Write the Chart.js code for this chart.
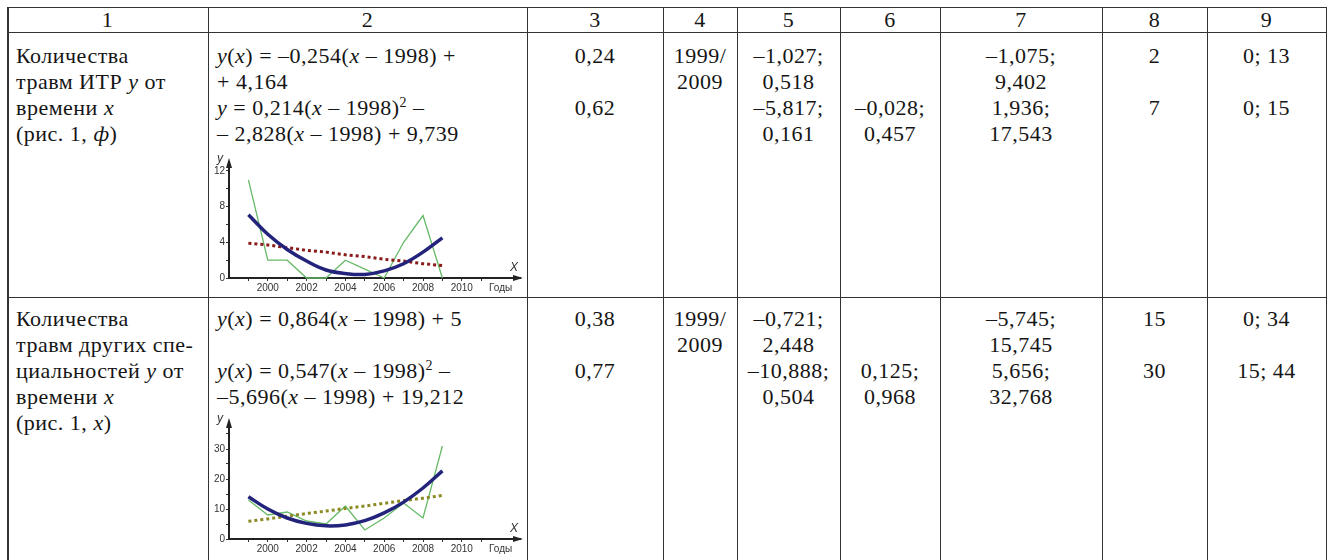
<!DOCTYPE html>
<html>
<head>
<meta charset="utf-8">
<script src="https://cdn.jsdelivr.net/npm/chart.js@4.4.0/dist/chart.umd.min.js"></script>
<style>
body { margin: 0; background: #fff; width: 1333px; height: 560px; overflow: hidden; position: relative; }
.line { position: absolute; background: #333; }
.cell { position: absolute; font-family: "Liberation Serif", serif; font-size: 22px; letter-spacing: 0.5px; line-height: 26px; color: #151515; white-space: nowrap; box-sizing: border-box; }
.cell.c { text-align: center; }
.cell.l { padding-left: 9px; }
.cell sup { font-size: 14px; line-height: 0; vertical-align: 8px; }
.chartBox { position: absolute; }
</style>
</head>
<body>
<div class="chartBox" id="box1" style="left:209px;top:150px;width:317px;height:146px"><canvas id="chart1"></canvas></div>
<div class="chartBox" id="box2" style="left:209px;top:410px;width:317px;height:147px"><canvas id="chart2"></canvas></div>
<script>
// data
var years = [1999, 2000, 2001, 2002, 2003, 2004, 2005, 2006, 2007, 2008, 2009];
var itrInjuries = [11, 2, 2, 0, 0, 2, 1, 0, 4, 7, 0];
var itrQuad = [7.1, 4.9, 3.2, 1.9, 0.9, 0.5, 0.4, 0.8, 1.6, 2.9, 4.5];
var itrLinear = [3.9, 3.7, 3.4, 3.1, 2.9, 2.6, 2.4, 2.1, 1.9, 1.6, 1.4];
var otherInjuries = [13, 8, 9, 6, 5, 11, 3, 7, 12, 7, 31];
var otherQuad = [14.1, 10.0, 7.0, 5.2, 4.4, 4.7, 6.1, 8.7, 12.3, 17.0, 22.7];
var otherLinear = [5.9, 6.7, 7.6, 8.5, 9.3, 10.2, 11.0, 11.9, 12.8, 13.6, 14.5];
var xTicks = [1999, 2000, 2001, 2002, 2003, 2004, 2005, 2006, 2007, 2008, 2009, 2010, 2011, 2012];
var xTickLabels = {2000: "2000", 2002: "2002", 2004: "2004", 2006: "2006", 2008: "2008", 2010: "2010", 2012: "Годы"};
var yTicks1 = [0, 2, 4, 6, 8, 10, 12];
var yLabels1 = [0, 4, 8, 12];
var yTicks2 = [0, 5, 10, 15, 20, 25, 30, 35];
var yLabels2 = [0, 10, 20, 30];

// table text
var headers = ["1", "2", "3", "4", "5", "6", "7", "8", "9"];
var row1 = [
    "Количества<br>травм ИТР <i>y</i> от<br>времени <i>x</i><br>(рис. 1, <i>ф</i>)",
    "<i>y</i>(<i>x</i>) = –0,254(<i>x</i> – 1998) +<br>+ 4,164<br><i>y</i> = 0,214(<i>x</i> – 1998)<sup>2</sup> –<br>– 2,828(<i>x</i> – 1998) + 9,739",
    "0,24<br><br>0,62",
    "1999/<br>2009",
    "–1,027;<br>0,518<br>–5,817;<br>0,161",
    "<br><br>–0,028;<br>0,457",
    "–1,075;<br>9,402<br>1,936;<br>17,543",
    "2<br><br>7",
    "0; 13<br><br>0; 15"
];
var row2 = [
    "Количества<br>травм других спе-<br>циальностей <i>y</i> от<br>времени <i>x</i><br>(рис. 1, <i>х</i>)",
    "<i>y</i>(<i>x</i>) = 0,864(<i>x</i> – 1998) + 5<br><br><i>y</i>(<i>x</i>) = 0,547(<i>x</i> – 1998)<sup>2</sup> –<br>–5,696(<i>x</i> – 1998) + 19,212",
    "0,38<br><br>0,77",
    "1999/<br>2009",
    "–0,721;<br>2,448<br>–10,888;<br>0,504",
    "<br><br>0,125;<br>0,968",
    "–5,745;<br>15,745<br>5,656;<br>32,768",
    "15<br><br>30",
    "0; 34<br><br>15; 44"
];

// table grid
var colX = [7, 208, 527, 663, 737, 840, 940, 1102, 1207, 1326];
var rowY = [7, 32, 297, 570];

function addLine(x, y, w, h) {
    var d = document.createElement("div");
    d.className = "line";
    d.style.left = x + "px"; d.style.top = y + "px";
    d.style.width = w + "px"; d.style.height = h + "px";
    document.body.appendChild(d);
}
colX.forEach(function (x, i) { addLine(x, rowY[0], i === 0 ? 2 : 1, rowY[3] - rowY[0]); });
rowY.forEach(function (y) { addLine(colX[0], y, colX[9] - colX[0] + 1, 1); });

function addCell(html, col, top, height, head) {
    var d = document.createElement("div");
    d.className = "cell " + (col < 2 && !head ? "l" : "c");
    d.style.left = colX[col] + "px";
    d.style.width = (colX[col + 1] - colX[col]) + "px";
    d.style.top = top + "px";
    if (head) { d.style.height = height + "px"; d.style.lineHeight = height + "px"; }
    d.innerHTML = html;
    document.body.appendChild(d);
}
headers.forEach(function (h, i) { addCell(h, i, rowY[0], rowY[1] - rowY[0], true); });
row1.forEach(function (h, i) { addCell(h, i, rowY[1] + 11, 0, false); });
row2.forEach(function (h, i) { addCell(h, i, rowY[2] + 9, 0, false); });

// arrows and axis letters
var axisArrows = {
    id: "axisArrows",
    afterDraw: function (chart) {
        var ctx = chart.ctx, a = chart.chartArea;
        ctx.save();
        ctx.fillStyle = "#222";
        ctx.beginPath();
        ctx.moveTo(a.right + 3, a.bottom);
        ctx.lineTo(a.right - 7, a.bottom - 3);
        ctx.lineTo(a.right - 7, a.bottom + 3);
        ctx.closePath();
        ctx.fill();
        ctx.beginPath();
        ctx.moveTo(a.left, a.top - 4);
        ctx.lineTo(a.left - 3, a.top + 6);
        ctx.lineTo(a.left + 3, a.top + 6);
        ctx.closePath();
        ctx.fill();
        ctx.font = "italic 12px 'Liberation Sans'";
        ctx.fillStyle = "#333";
        ctx.textAlign = "center";
        ctx.textBaseline = "middle";
        ctx.fillText("y", a.left - 9, a.top - 3);
        ctx.fillText("X", a.right - 6, a.bottom - 10);
        ctx.restore();
    }
};

var tickFont = { family: "'Liberation Sans Narrow', 'Liberation Sans', sans-serif", size: 10 };

function makeChart(id, data, quad, lin, dotColor, yMax, yTicks, yLabels) {
    var pts = function (arr) { return years.map(function (x, i) { return { x: x, y: arr[i] }; }); };
    return new Chart(document.getElementById(id), {
        type: "line",
        data: {
            datasets: [
                { data: pts(quad), borderColor: "#23237c", borderWidth: 3.5, pointRadius: 0, tension: 0.4, clip: false },
                { data: pts(lin), borderColor: dotColor, borderWidth: 3, borderDash: [3, 3], pointRadius: 0, clip: false },
                { data: pts(data), borderColor: "#66b966", borderWidth: 1.3, pointRadius: 0, tension: 0, clip: false }
            ]
        },
        options: {
            responsive: true,
            maintainAspectRatio: false,
            animation: false,
            layout: { padding: { top: 12, right: 6, left: 0, bottom: 0 } },
            plugins: { legend: { display: false }, tooltip: { enabled: false } },
            scales: {
                x: {
                    type: "linear", min: 1998, max: 2013,
                    afterFit: function (s) { s.height = 18; },
                    afterBuildTicks: function (s) { s.ticks = xTicks.map(function (v) { return { value: v }; }); },
                    border: { color: "#222", width: 2 },
                    grid: { drawOnChartArea: false, tickLength: 3, tickColor: function (c) { return c.tick && c.tick.value === 2012 ? "rgba(0,0,0,0)" : "#333"; } },
                    ticks: { autoSkip: false, maxRotation: 0, padding: 1, color: "#333", font: tickFont,
                        callback: function (v) { return xTickLabels[v] || ""; } }
                },
                y: {
                    min: 0, max: yMax,
                    afterFit: function (s) { s.width = 20; },
                    afterBuildTicks: function (s) { s.ticks = yTicks.map(function (v) { return { value: v }; }); },
                    border: { color: "#222", width: 2 },
                    grid: { drawOnChartArea: false, tickLength: 3, tickColor: "#333" },
                    ticks: { autoSkip: false, padding: 1, color: "#333", font: tickFont,
                        callback: function (v) { return yLabels.indexOf(v) >= 0 ? String(v) : ""; } }
                }
            }
        },
        plugins: [axisArrows]
    });
}

makeChart("chart1", itrInjuries, itrQuad, itrLinear, "#8b1a1a", 13, yTicks1, yLabels1);
makeChart("chart2", otherInjuries, otherQuad, otherLinear, "#8c8a22", 39, yTicks2, yLabels2);
</script>
</body>
</html>
